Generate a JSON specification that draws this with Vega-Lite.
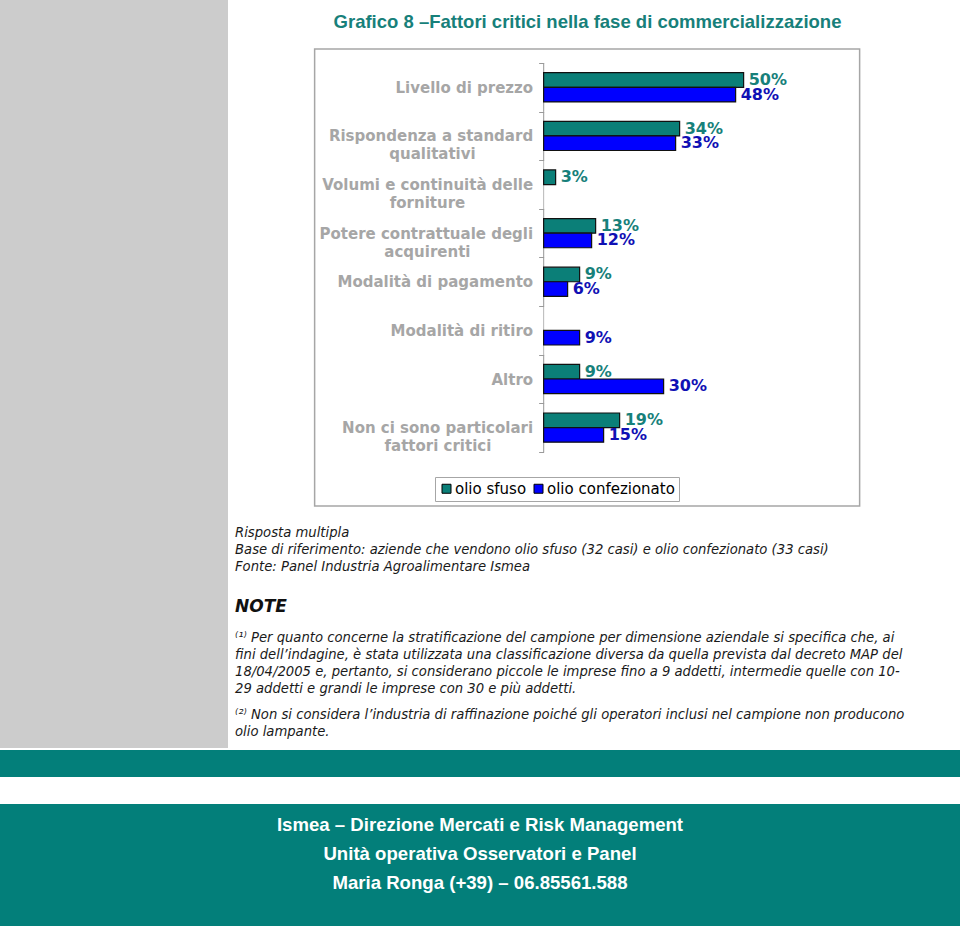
{
  "$schema": "https://vega.github.io/schema/vega-lite/v6.json",
  "padding": 0,
  "background": "white",
  "config": {"view": {"stroke": null}, "font": "DejaVu Sans"},
  "spacing": 0,
  "vconcat": [
    {
      "spacing": 7,
      "hconcat": [
        {
          "width": 228, "height": 748,
          "view": {"fill": "#cccccc", "stroke": null},
          "data": {"values": []},
          "mark": {"type": "text", "text": ""}
        },
        {
          "spacing": 0,
          "center": true,
          "vconcat": [
            {
              "width": 545, "height": 40.5,
              "data": {"values": [{"titolo": "Grafico 8 –Fattori critici nella fase di commercializzazione"}]},
              "mark": {"type": "text", "font": "Liberation Sans", "fontWeight": "bold", "fontSize": 18.5, "color": "#17807A", "dy": 1.75},
              "encoding": {"text": {"field": "titolo"}}
            },
            {
              "width": 545, "height": 457,
              "view": {"stroke": "#a6a6a6", "strokeWidth": 1.5, "fill": "white"},
              "data": {"values": [
                {"fattore": "Livello di prezzo", "serie": "olio sfuso", "valore": 0.50},
                {"fattore": "Livello di prezzo", "serie": "olio confezionato", "valore": 0.48},
                {"fattore": "Rispondenza a standard qualitativi", "serie": "olio sfuso", "valore": 0.34},
                {"fattore": "Rispondenza a standard qualitativi", "serie": "olio confezionato", "valore": 0.33},
                {"fattore": "Volumi e continuità delle forniture", "serie": "olio sfuso", "valore": 0.03},
                {"fattore": "Potere contrattuale degli acquirenti", "serie": "olio sfuso", "valore": 0.13},
                {"fattore": "Potere contrattuale degli acquirenti", "serie": "olio confezionato", "valore": 0.12},
                {"fattore": "Modalità di pagamento", "serie": "olio sfuso", "valore": 0.09},
                {"fattore": "Modalità di pagamento", "serie": "olio confezionato", "valore": 0.06},
                {"fattore": "Modalità di ritiro", "serie": "olio confezionato", "valore": 0.09},
                {"fattore": "Altro", "serie": "olio sfuso", "valore": 0.09},
                {"fattore": "Altro", "serie": "olio confezionato", "valore": 0.30},
                {"fattore": "Non ci sono particolari fattori critici", "serie": "olio sfuso", "valore": 0.19},
                {"fattore": "Non ci sono particolari fattori critici", "serie": "olio confezionato", "valore": 0.15}
              ]},
              "encoding": {
                "y": {
                  "field": "fattore", "type": "nominal",
                  "scale": {
                    "domain": ["Livello di prezzo", "Rispondenza a standard qualitativi", "Volumi e continuità delle forniture", "Potere contrattuale degli acquirenti", "Modalità di pagamento", "Modalità di ritiro", "Altro", "Non ci sono particolari fattori critici"],
                    "paddingInner": 0, "paddingOuter": 0.7, "align": 0.2056
                  },
                  "axis": {
                    "title": null, "domain": false, "tickBand": "extent", "tickSize": 5, "tickColor": "#9a9a9a",
                    "offset": -229, "labelFont": "DejaVu Sans", "labelFontWeight": "bold", "labelFontSize": 15,
                    "labelColor": "#a6a6a6", "labelLineHeight": 18, "labelPadding": 6, "labelLimit": 0,
                    "labelExpr": "datum.value == 'Rispondenza a standard qualitativi' ? ['Rispondenza a standard', 'qualitativi\u00a0\u00a0\u00a0\u00a0\u00a0\u00a0\u00a0\u00a0\u00a0\u00a0\u00a0\u200b'] : datum.value == 'Volumi e continuità delle forniture' ? ['Volumi e continuità delle', 'forniture\u00a0\u00a0\u00a0\u00a0\u00a0\u00a0\u00a0\u00a0\u00a0\u00a0\u00a0\u00a0\u00a0\u200b'] : datum.value == 'Potere contrattuale degli acquirenti' ? ['Potere contrattuale degli', 'acquirenti\u00a0\u00a0\u00a0\u00a0\u00a0\u00a0\u00a0\u00a0\u00a0\u00a0\u00a0\u00a0\u200b'] : datum.value == 'Non ci sono particolari fattori critici' ? ['Non ci sono particolari', 'fattori critici\u00a0\u00a0\u00a0\u00a0\u00a0\u00a0\u00a0\u00a0\u200b'] : datum.label"
                  }
                }
              },
              "layer": [
                {
                  "mark": {"type": "tick", "orient": "vertical", "color": "#9a9a9a", "thickness": 1},
                  "encoding": {
                    "x": {"datum": 0, "type": "quantitative", "scale": {"domain": [-0.5725, 0.79], "nice": false, "zero": false}, "axis": null},
                    "size": {"value": 48.62}
                  }
                },
                {
                  "mark": {"type": "bar", "stroke": "#111111", "strokeWidth": 1.2},
                  "encoding": {
                    "x": {"field": "valore", "type": "quantitative", "stack": null, "scale": {"domain": [-0.5725, 0.79], "nice": false, "zero": false}, "axis": null},
                    "x2": {"datum": 0},
                    "yOffset": {"field": "serie", "type": "nominal", "scale": {"domain": ["olio sfuso", "olio confezionato"], "paddingInner": 0, "paddingOuter": 0.665}},
                    "color": {
                      "field": "serie", "type": "nominal",
                      "scale": {"domain": ["olio sfuso", "olio confezionato"], "range": ["#0B7F78", "#0000FF"]},
                      "legend": {
                        "title": null, "orient": "none", "legendX": 435, "legendY": 477, "direction": "horizontal",
                        "symbolType": "square", "symbolSize": 81, "symbolStrokeColor": "#000000", "symbolStrokeWidth": 1,
                        "labelFont": "DejaVu Sans", "labelFontSize": 15, "labelColor": "#000000",
                        "strokeColor": "#a6a6a6", "fillColor": "white", "padding": 4, "columnPadding": 4, "labelOffset": 1
                      }
                    }
                  }
                },
                {
                  "transform": [{"filter": "datum.serie == 'olio sfuso'"}],
                  "mark": {"type": "text", "align": "left", "baseline": "middle", "dx": 5, "font": "DejaVu Sans", "fontWeight": "bold", "fontSize": 16, "color": "#17807A"},
                  "encoding": {
                    "x": {"field": "valore", "type": "quantitative", "axis": null},
                    "yOffset": {"field": "serie", "type": "nominal"},
                    "text": {"field": "valore", "type": "quantitative", "format": ".0%"}
                  }
                },
                {
                  "transform": [{"filter": "datum.serie == 'olio confezionato'"}],
                  "mark": {"type": "text", "align": "left", "baseline": "middle", "dx": 5, "font": "DejaVu Sans", "fontWeight": "bold", "fontSize": 16, "color": "#1010B4"},
                  "encoding": {
                    "x": {"field": "valore", "type": "quantitative", "axis": null},
                    "yOffset": {"field": "serie", "type": "nominal"},
                    "text": {"field": "valore", "type": "quantitative", "format": ".0%"}
                  }
                }
              ]
            },
            {
              "spacing": 0,
              "vconcat": [
                {
                  "width": 705, "height": 68.5,
                  "data": {"values": [
                    {"riga": 1, "testo": "Risposta multipla"},
                    {"riga": 2, "testo": "Base di riferimento: aziende che vendono olio sfuso (32 casi) e olio confezionato (33 casi)"},
                    {"riga": 3, "testo": "Fonte: Panel Industria Agroalimentare Ismea"}
                  ]},
                  "mark": {"type": "text", "align": "left", "baseline": "middle", "font": "DejaVu Sans", "fontStyle": "italic", "fontSize": 13.2, "color": "#1a1a1a"},
                  "encoding": {
                    "x": {"value": 0},
                    "y": {"field": "riga", "type": "ordinal", "axis": null, "scale": {"type": "band", "paddingInner": 0, "paddingOuter": 0.515, "align": 1}},
                    "text": {"field": "testo"}
                  }
                },
                {
                  "width": 705, "height": 53,
                  "data": {"values": [{"riga": 1, "testo": "NOTE"}]},
                  "mark": {"type": "text", "align": "left", "baseline": "middle", "font": "DejaVu Sans", "fontStyle": "italic", "fontWeight": "bold", "fontSize": 17, "color": "#111111"},
                  "encoding": {
                    "x": {"value": 0},
                    "y": {"field": "riga", "type": "ordinal", "axis": null, "scale": {"type": "band", "paddingInner": 0, "paddingOuter": 0.604, "align": 0.672}},
                    "text": {"field": "testo"}
                  }
                },
                {
                  "width": 705, "height": 68,
                  "data": {"values": [
                    {"riga": 1, "testo": "⁽¹⁾ Per quanto concerne la stratificazione del campione per dimensione aziendale si specifica che, ai"},
                    {"riga": 2, "testo": "fini dell’indagine, è stata utilizzata una classificazione diversa da quella prevista dal decreto MAP del"},
                    {"riga": 3, "testo": "18/04/2005 e, pertanto, si considerano piccole le imprese fino a 9 addetti, intermedie quelle con 10-"},
                    {"riga": 4, "testo": "29 addetti e grandi le imprese con 30 e più addetti."}
                  ]},
                  "mark": {"type": "text", "align": "left", "baseline": "middle", "font": "DejaVu Sans", "fontStyle": "italic", "fontSize": 13.2, "color": "#1a1a1a"},
                  "encoding": {
                    "x": {"value": 0},
                    "y": {"field": "riga", "type": "ordinal", "axis": null, "scale": {"type": "band", "paddingInner": 0, "paddingOuter": 0}},
                    "text": {"field": "testo"}
                  }
                },
                {
                  "width": 705, "height": 52.5,
                  "data": {"values": [
                    {"riga": 1, "testo": "⁽²⁾ Non si considera l’industria di raffinazione poiché gli operatori inclusi nel campione non producono"},
                    {"riga": 2, "testo": "olio lampante."}
                  ]},
                  "mark": {"type": "text", "align": "left", "baseline": "middle", "font": "DejaVu Sans", "fontStyle": "italic", "fontSize": 13.2, "color": "#1a1a1a"},
                  "encoding": {
                    "x": {"value": 0},
                    "y": {"field": "riga", "type": "ordinal", "axis": null, "scale": {"type": "band", "paddingInner": 0, "paddingOuter": 0.544, "align": 0.54}},
                    "text": {"field": "testo"}
                  }
                }
              ]
            }
          ]
        }
      ]
    },
    {
      "spacing": 27,
      "vconcat": [
        {
          "width": 960, "height": 27,
          "view": {"fill": "#037F7A", "stroke": null},
          "data": {"values": []},
          "mark": {"type": "text", "text": ""}
        },
        {
          "width": 960, "height": 124,
          "view": {"fill": "#037F7A", "stroke": null},
          "data": {"values": [
            {"riga": 1, "testo": "Ismea – Direzione Mercati e Risk Management"},
            {"riga": 2, "testo": "Unità operativa Osservatori e Panel"},
            {"riga": 3, "testo": " Maria Ronga (+39) – 06.85561.588"}
          ]},
          "mark": {"type": "text", "align": "center", "baseline": "middle", "font": "Liberation Sans", "fontWeight": "bold", "fontSize": 18.6, "color": "white"},
          "encoding": {
            "y": {"field": "riga", "type": "ordinal", "axis": null, "scale": {"type": "band", "paddingInner": 0, "paddingOuter": 0.638, "align": 0.176}},
            "text": {"field": "testo"}
          }
        }
      ]
    }
  ]
}
